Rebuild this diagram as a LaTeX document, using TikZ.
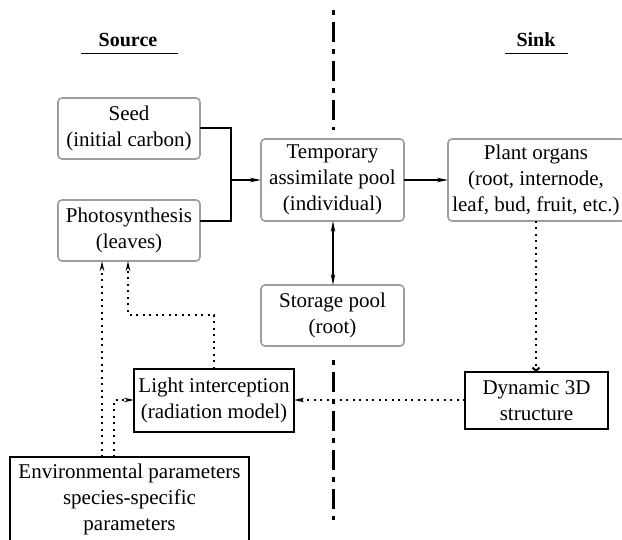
\documentclass[tikz,border=0pt]{standalone}
\usepackage{fontspec}
\setmainfont{Liberation Serif}
\usetikzlibrary{arrows.meta}
\begin{document}
\begin{tikzpicture}[x=1pt,y=-1pt,
  every node/.style={font=\fontsize{21}{26}\selectfont, align=center, inner sep=0pt},
  graybox/.style={draw=black!38, line width=1.6pt, rounded corners=4pt},
  blackbox/.style={draw=black, line width=1.6pt},
  solidarr/.style={line width=1.5pt, -{Stealth[length=11pt,width=4.5pt]}},
  dotarr/.style={line width=2pt, dash pattern=on 2pt off 4.5pt, -{Stealth[length=10pt,width=4.5pt]}},
  divider/.style={line width=3pt, dash pattern=on 5pt off 7pt on 20pt off 7pt}
]
\useasboundingbox (0,0) rectangle (622,540);

% headings
\node[font=\fontsize{20}{24}\selectfont\bfseries] (src) at (128,40) {Source};
\node[font=\fontsize{20}{24}\selectfont\bfseries] (snk) at (536,40) {Sink};
\coordinate (su1) at (81,54); \coordinate (su2) at (178,54);
\coordinate (sk1) at (505,54); \coordinate (sk2) at (568,54);
\draw[line width=1pt] (su1) -- (su2);
\draw[line width=1pt] (sk1) -- (sk2);

% divider
\coordinate (d1) at (333,10); \coordinate (d2) at (333,130);
\coordinate (d3) at (333,360); \coordinate (d4) at (333,520);
\draw[divider] (d1) -- (d2);
\draw[divider] (d3) -- (d4);

% boxes
\draw[graybox] (58,98) rectangle (200,159);
\node (seed) at (129,128.5) {Seed\\(initial carbon)};
\coordinate (seedE) at (200,128);

\draw[graybox] (58,200) rectangle (200,261);
\node (photo) at (129,230.5) {Photosynthesis\\(leaves)};
\coordinate (photoE) at (200,221);

\draw[graybox] (261,139) rectangle (404,221);
\node (temp) at (332.5,180) {Temporary\\assimilate pool\\(individual)};
\coordinate (tempW) at (261,180); \coordinate (tempE) at (404,180);
\coordinate (tempS) at (333,221);

\draw[graybox] (448,139) rectangle (625,221);
\node (organs) at (536,180) {Plant organs\\(root, internode,\\leaf, bud, fruit, etc.)};
\coordinate (organsW) at (448,180); \coordinate (organsS) at (536,221);

\draw[graybox] (261,285) rectangle (404,346);
\node (storage) at (332.5,315.5) {Storage pool\\(root)};
\coordinate (storageN) at (333,285);

\draw[blackbox] (134,369) rectangle (294,432);
\node (light) at (214,400.5) {Light interception\\(radiation model)};
\coordinate (lightN) at (214,369); \coordinate (lightW) at (134,400);
\coordinate (lightE) at (294,400);

\draw[blackbox] (465,372) rectangle (608,429);
\node (dyn) at (536.5,400.5) {Dynamic 3D\\structure};
\coordinate (dynW) at (465,400); \coordinate (dynN) at (536,372);

\draw[blackbox] (10,457) rectangle (249,545);
\node (env) at (129.5,499) {Environmental parameters\\species-specific\\parameters};
\coordinate (envN1) at (102,457); \coordinate (envN2) at (114,457);

% solid connectors
\coordinate (j) at (231,180);
\draw[line width=1.5pt] (seedE) -| (j) |- (photoE);
\draw[solidarr] (j) -- (tempW);
\draw[solidarr] (tempE) -- (organsW);
\draw[line width=1.5pt, {Stealth[length=11pt,width=4.5pt]}-{Stealth[length=11pt,width=4.5pt]}] (tempS) -- (storageN);

% dotted connectors
\coordinate (p1) at (102,261); \coordinate (p2) at (128,261);
\draw[dotarr] (envN1) -- (p1);
\draw[dotarr] (lightN) |- (128,315) -- (p2);
\draw[dotarr] (envN2) |- (lightW);
\draw[dotarr] (dynW) -- (lightE);
\draw[line width=2pt, dash pattern=on 2pt off 4.5pt, -{Straight Barb[length=3pt,width=7pt]}] (organsS) -- (dynN);
\end{tikzpicture}
\end{document}
